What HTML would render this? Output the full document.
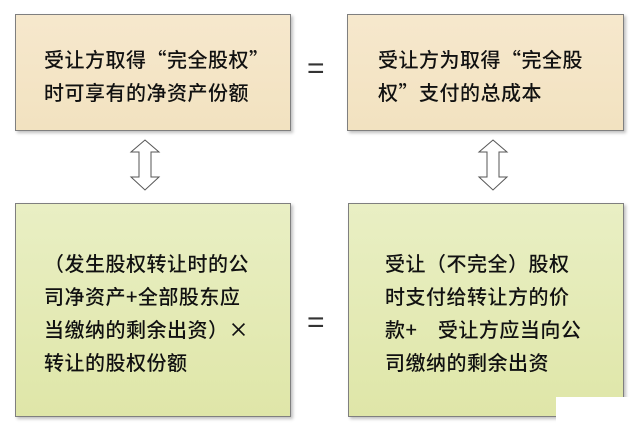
<!DOCTYPE html>
<html><head><meta charset="utf-8"><style>
body{margin:0;width:640px;height:430px;background:#fff;position:relative;overflow:hidden;font-family:"Noto Sans CJK SC","Liberation Sans",sans-serif;color:#111}
.b{position:absolute;border:1px solid #7f7f7f;box-shadow:2px 2px 3px rgba(0,0,0,.25);box-sizing:border-box;font-size:20px;line-height:33px;font-weight:500;letter-spacing:0.5px}
.t{background:linear-gradient(#f6e8cd,#f2e2c0)}
.g{background:linear-gradient(#e9efc4,#dfe6a8)}
.eq{position:absolute;font-size:30px;color:#333;font-family:"Liberation Sans",sans-serif}
</style></head><body>
<div class="b t" style="left:15px;top:14px;width:276px;height:117px;padding:27px 0 0 28px">受让方取得“完全股权”<br>时可享有的净资产份额</div>
<div class="b t" style="left:347px;top:14px;width:277px;height:117px;padding:27px 0 0 30px">受让方为取得“完全股<br>权”支付的总成本</div>
<div class="b g" style="left:15px;top:203px;width:276px;height:214px;padding:42px 0 0 28px">（发生股权转让时的公<br>司净资产+全部股东应<br>当缴纳的剩余出资）×<br>转让的股权份额</div>
<div class="b g" style="left:348px;top:203px;width:276px;height:214px;padding:42px 0 0 36px">受让（不完全）股权<br>时支付给转让方的价<br>款+　受让方应当向公<br>司缴纳的剩余出资</div>
<div style="position:absolute;left:556px;top:397px;width:84px;height:33px;background:#fff"></div>
<div class="eq" style="left:307px;top:52px">=</div>
<div class="eq" style="left:307px;top:306px">=</div>
<svg style="position:absolute;left:0;top:0" width="640" height="430">
<g fill="#fff" stroke="#555" stroke-width="1">
<polygon points="145,140 159,152 151,152 151,177 159,177 145,190 131,177 139,177 139,152 131,152"/>
<polygon points="493,140 507,152 499,152 499,177 507,177 493,190 479,177 487,177 487,152 479,152"/>
</g></svg>
</body></html>
